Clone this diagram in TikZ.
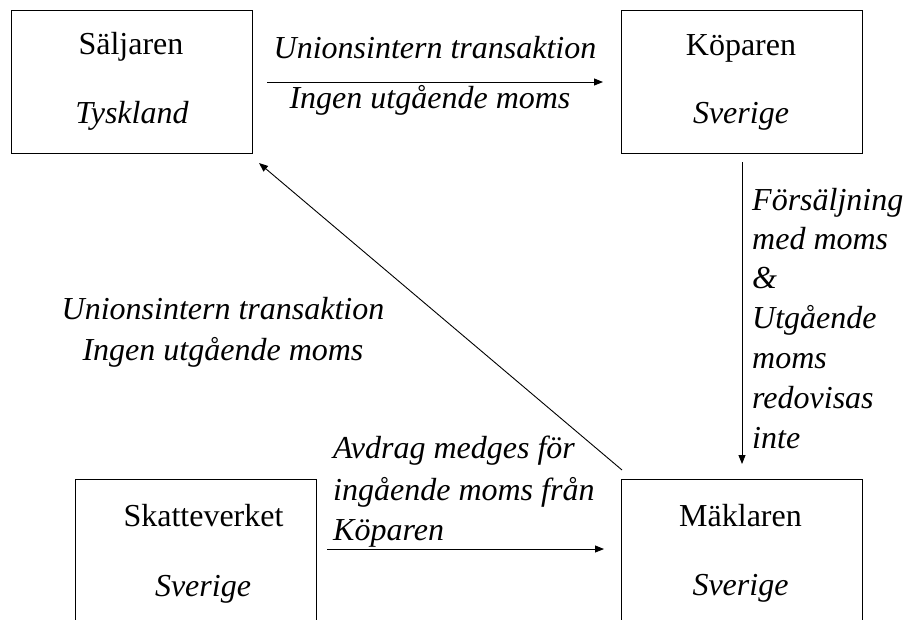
\documentclass[tikz,border=0pt]{standalone}
\usepackage{fontspec}
\setmainfont{Liberation Serif}[ItalicFont={Liberation Serif Italic},BoldFont={Liberation Serif Bold}]
\usetikzlibrary{arrows.meta}
\begin{document}
\begin{tikzpicture}[x=1pt,y=-1pt,
  box/.style={draw,line width=0.9pt,minimum width=241pt,minimum height=143pt,inner sep=0pt},
  txt/.style={font=\fontsize{32}{40}\selectfont,inner sep=0pt,anchor=base},
  itx/.style={font=\fontsize{32}{40}\selectfont\itshape,inner sep=0pt,anchor=base},
  itl/.style={itx,anchor=base west},
  arr/.style={line width=0.9pt,-{Triangle[length=9pt,width=7pt]}}]
\useasboundingbox (0,0) rectangle (912,619);
\node[box] (sal) at (132,81.5) {};
\node[box] (kop) at (741.5,81.5) {};
\node[box] (mak) at (741.5,550.5) {};
\node[box] (ska) at (196,550.5) {};
\node[txt] (t1) at (131,54) {Säljaren};
\node[itx] (t2) at (132,123) {Tyskland};
\node[txt] (t3) at (741,55) {Köparen};
\node[itx] (t4) at (741,123) {Sverige};
\node[txt] (t5) at (740.5,526) {Mäklaren};
\node[itx] (t6) at (740.5,595) {Sverige};
\node[txt] (t7) at (203.5,526) {Skatteverket};
\node[itx] (t8) at (203,596) {Sverige};
% top arrow
\coordinate (a1) at (267,82);
\coordinate (a2) at (603,82);
\draw[arr] (a1) -- (a2);
\node[itx] (l1) at (435,58) {Unionsintern transaktion};
\node[itx] (l2) at (430,108) {Ingen utgående moms};
% vertical arrow
\coordinate (v1) at (742,162);
\coordinate (v2) at (742,464);
\draw[arr] (v1) -- (v2);
\node[itl] (m1) at (752,210) {Försäljning};
\node[itl] (m2) at (752,249) {med moms};
\node[itl] (m3) at (752,288) {\&};
\node[itl] (m4) at (752,328) {Utgående};
\node[itl] (m5) at (752,368) {moms};
\node[itl] (m6) at (752,408) {redovisas};
\node[itl] (m7) at (752,448) {inte};
% diagonal arrow
\coordinate (d1) at (622,470);
\coordinate (d2) at (259,163);
\draw[arr] (d1) -- (d2);
\node[itx] (l4) at (223,319) {Unionsintern transaktion};
\node[itx] (l5) at (223,360) {Ingen utgående moms};
% bottom arrow
\coordinate (b1) at (327,549);
\coordinate (b2) at (604,549);
\draw[arr] (b1) -- (b2);
\node[itl] (n1) at (333,458) {Avdrag medges för};
\node[itl] (n2) at (333,500) {ingående moms från};
\node[itl] (n3) at (333,540) {Köparen};
\end{tikzpicture}
\end{document}
